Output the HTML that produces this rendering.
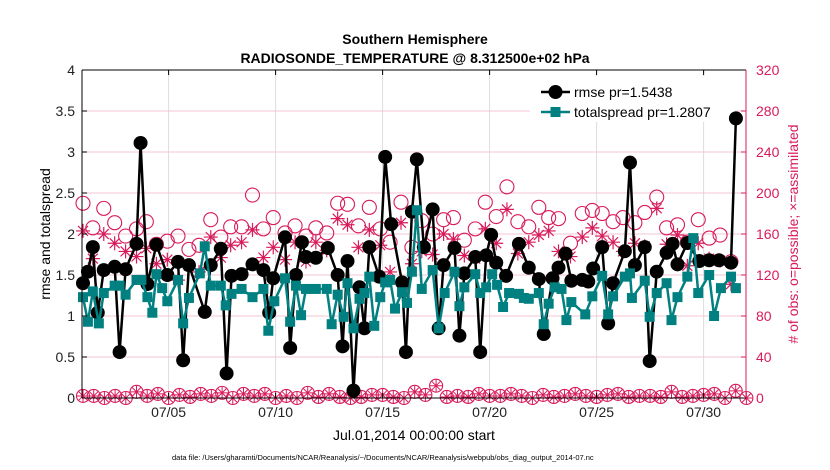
<!DOCTYPE html>
<html><head><meta charset="utf-8">
<style>
body{margin:0;background:#fff;}
svg{display:block;font-family:"Liberation Sans",Arial,sans-serif;}
</style></head>
<body>
<svg id="chart" width="830" height="470" viewBox="0 0 830 470" xmlns="http://www.w3.org/2000/svg">
<text x="415" y="44" font-size="14" font-weight="bold" text-anchor="middle">Southern Hemisphere</text>
<text x="415" y="63" font-size="14" font-weight="bold" text-anchor="middle">RADIOSONDE_TEMPERATURE @ 8.312500e+02 hPa</text>
<g id="grid"></g>
<g id="legend">
<rect x="530" y="76" width="205" height="46" fill="#fff"/>
</g>
<g id="marks"></g>
<g id="axes"></g>
<text transform="translate(50,234) rotate(-90)" font-size="14" text-anchor="middle">rmse and totalspread</text>
<text transform="translate(798,234) rotate(-90)" font-size="14" text-anchor="middle" fill="#d81b5a"># of obs: o=possible; ×=assimilated</text>
<text x="414" y="440" font-size="14" text-anchor="middle">Jul.01,2014 00:00:00 start</text>
<text x="172" y="460" font-size="7.5">data file: /Users/gharamti/Documents/NCAR/Reanalysis/~/Documents/NCAR/Reanalysis/webpub/obs_diag_output_2014-07.nc</text>
</svg>
<script>
const rmseDays=[0,.23,.46,.69,.97,1.48,1.71,1.99,2.5,2.69,3.01,3.43,3.94,4.44,4.68,4.95,5.69,5.97,6.44,6.71,6.94,7.41,7.92,8.43,8.7,8.89,9.44,9.68,9.95,10.23,10.42,10.88,11.44,11.9,12.13,12.36,12.64,12.92,13.15,13.38,13.84,14.12,14.4,14.91,15.09,15.37,15.6,15.93,16.34,16.62,16.85,17.36,17.59,17.82,18.33,18.56,18.84,19.07,19.31,19.77,20.37,20.83,21.3,21.53,21.94,22.22,22.55,22.82,23.33,23.61,23.84,24.26,24.54,24.77,25.32,25.56,25.79,26.25,26.48,26.81,27.27,27.55,27.78,28.24,28.8,29.26,29.72,30.28,30.51];
const rmseVals=[1.40,1.54,1.84,1.04,1.56,1.60,0.56,1.57,1.88,3.11,1.39,1.87,1.5,1.66,0.46,1.62,1.05,1.62,1.82,0.30,1.49,1.51,1.63,1.56,1.04,1.46,1.96,0.61,1.5,1.90,1.72,1.71,1.83,1.5,0.63,1.67,0.09,1.35,0.85,1.84,1.48,2.94,2.12,1.41,0.56,2.27,2.91,1.84,2.30,0.85,1.62,1.83,0.76,1.52,1.72,0.56,1.74,1.99,1.65,1.49,1.88,1.59,1.45,0.78,1.46,1.59,1.76,1.43,1.44,1.42,1.58,1.84,0.91,1.40,1.79,2.87,1.62,1.84,0.45,1.54,1.77,1.88,1.63,1.89,1.67,1.68,1.68,1.65,3.41];
const spreadDays=[0,.23,.46,.74,.97,1.48,1.71,1.99,2.5,2.73,3.01,3.24,3.43,3.7,3.94,4.44,4.68,4.95,5.46,5.69,5.97,6.44,6.67,6.94,7.41,7.92,8.43,8.66,8.94,9.44,9.68,9.95,10.19,10.42,10.88,11.39,11.62,11.9,12.18,12.36,12.64,12.92,13.15,13.38,13.61,13.89,14.12,14.35,14.58,14.91,15.14,15.37,15.6,15.83,16.34,16.62,16.9,17.36,17.59,17.82,18.33,18.56,18.84,19.12,19.35,19.63,19.91,20.37,20.6,20.83,21.3,21.53,21.76,22.04,22.36,22.59,22.82,23.47,23.8,24.26,24.54,24.77,25.32,25.56,25.65,26.25,26.48,26.81,27.27,27.5,27.78,28.24,28.52,28.75,29.26,29.49,29.81,30.28,30.51];
const spreadVals=[1.23,0.93,1.30,0.91,1.28,1.37,1.37,1.26,1.44,1.44,1.23,1.04,1.51,1.34,1.18,1.44,0.91,1.22,1.52,1.85,1.37,1.37,1.13,1.27,1.33,1.23,1.33,0.82,1.18,1.46,0.93,1.37,1.01,1.33,1.33,1.33,0.90,1.26,0.99,1.40,0.85,1.21,1.28,1.48,0.88,1.23,1.41,1.44,1.09,1.29,1.16,1.54,2.29,1.33,1.56,0.85,1.28,1.54,1.12,1.35,1.51,1.28,1.35,1.51,1.38,1.11,1.28,1.27,1.22,1.21,1.28,0.90,1.15,1.35,1.33,0.95,1.17,1.02,1.24,1.49,1.02,1.24,1.48,1.52,1.22,1.43,0.99,1.28,1.40,0.95,1.23,1.48,1.95,1.28,1.50,1.00,1.34,1.48,1.34];
const obsDays=[0,.46,.97,1.48,1.99,2.5,2.96,3.43,3.94,4.44,4.95,5.42,5.97,6.44,6.9,7.41,7.92,8.43,8.89,9.44,9.91,10.42,10.88,11.39,11.9,12.36,12.87,13.38,13.89,14.35,14.86,15.37,15.83,16.34,16.85,17.31,17.82,18.33,18.8,19.31,19.81,20.32,20.83,21.3,21.76,22.22,22.78,23.33,23.8,24.26,24.77,25.23,25.79,26.25,26.81,27.27,27.78,28.24,28.75,29.26,29.77,30.28];
const possibleVals=[190,166,185,171,158,165,172,150,153,158,145,149,174,157,167,167,198,165,176,161,168,158,166,161,190,189,168,186,165,152,191,147,173,160,174,176,154,165,191,177,206,172,167,186,176,175,151,180,183,180,172,176,171,181,196,166,169,152,174,156,159,133];
const assimVals=[163,136,160,151,143,138,146,131,135,115,129,123,157,137,149,152,164,137,147,135,152,133,152,144,175,169,147,164,149,123,171,131,143,140,160,155,139,136,165,151,184,141,152,159,163,143,138,157,166,158,152,143,151,148,185,150,159,129,151,136,134,111];
const lowDays=[0,.5,1,1.5,2,2.5,3,3.5,4,4.5,5,5.5,6,6.5,7,7.5,8,8.5,9,9.5,10,10.5,11,11.5,12,12.5,13,13.5,14,14.5,15,15.5,16,16.5,17,17.5,18,18.5,19,19.5,20,20.5,21,21.5,22,22.5,23,23.5,24,24.5,25,25.5,26,26.5,27,27.5,28,28.5,29,29.5,30,30.5,31];
const lowVals=[2,2,0,2,0,6,2,4,0,3,1,4,2,5,0,4,2,4,0,2,0,5,1,4,1,0,1,3,3,1,0,6,3,12,1,2,1,4,2,2,4,2,0,3,1,2,4,2,1,3,4,1,2,2,1,6,1,2,3,4,0,7,0];
const leftTicks=[0,0.5,1,1.5,2,2.5,3,3.5,4];
const leftTickLabels=["0","0.5","1","1.5","2","2.5","3","3.5","4"];
const rightTicks=[0,40,80,120,160,200,240,280,320];
const xTickDays=[4,9,14,19,24,29];
const xTickLabels=["07/05","07/10","07/15","07/20","07/25","07/30"];

const NS="http://www.w3.org/2000/svg";
const PL=82,PR=746,PT=70,PB=398;
const X=d=>83+d*21.4;
const YL=v=>PB-(v/4)*(PB-PT);
const YR=v=>PB-(v/320)*(PB-PT);
const PINK="#d81b5a",TEAL="#008080";
function mk(tag,attrs,parent){const e=document.createElementNS(NS,tag);for(const k in attrs)e.setAttribute(k,attrs[k]);parent.appendChild(e);return e;}
const grid=document.getElementById('grid'),marks=document.getElementById('marks'),axes=document.getElementById('axes'),legend=document.getElementById('legend');

xTickDays.forEach((d,i)=>{
  const l=mk('line',{x1:X(d),x2:X(d),y1:PT,y2:PB,stroke:'#dcdcdc','stroke-width':1},grid);
  
  
  const t=mk('text',{x:X(d),y:PB+19,'font-size':14,'text-anchor':'middle',fill:'#222'},axes);
  t.textContent=xTickLabels[i];
  
  
  mk('line',{x1:X(d),x2:X(d),y1:PB,y2:PB-5,stroke:'#000'},axes);
  mk('line',{x1:X(d),x2:X(d),y1:PT,y2:PT+5,stroke:'#000'},axes);
});
rightTicks.forEach(v=>{
  if(v>0&&v<320){const l=mk('line',{x1:PL,x2:PR,y1:YR(v),y2:YR(v),stroke:'#f3c6d5','stroke-width':1},grid);
  
  }
  const t=mk('text',{x:PR+10,y:YR(v)+5,'font-size':14,fill:PINK},axes);
  t.textContent=String(v);
  
  
  mk('line',{x1:PR,x2:PR-5,y1:YR(v),y2:YR(v),stroke:PINK},axes);
});
leftTicks.forEach((v,i)=>{
  const t=mk('text',{x:PL-7,y:YL(v)+5,'font-size':14,'text-anchor':'end',fill:'#222'},axes);
  t.textContent=leftTickLabels[i];
  
  
  mk('line',{x1:PL,x2:PL+5,y1:YL(v),y2:YL(v),stroke:'#000'},axes);
});
mk('line',{x1:PL,x2:PR,y1:PT,y2:PT,stroke:'#000'},axes);
mk('line',{x1:PL,x2:PR,y1:PB,y2:PB,stroke:'#000'},axes);
mk('line',{x1:PL,x2:PL,y1:PT,y2:PB,stroke:'#000'},axes);
mk('line',{x1:PR,x2:PR,y1:PT,y2:PB,stroke:PINK},axes);

function star(cx,cy,r,parent,w){
  let d='';for(let k=0;k<4;k++){const a=k*Math.PI/4;const dx=r*Math.cos(a),dy=r*Math.sin(a);d+=`M${cx-dx},${cy-dy}L${cx+dx},${cy+dy}`;}
  return mk('path',{d:d,stroke:PINK,'stroke-width':w,fill:'none'},parent);
}
possibleVals.forEach((v,i)=>{
  const c=mk('circle',{cx:X(obsDays[i]),cy:YR(v),r:7,fill:'none',stroke:PINK,'stroke-width':1.1},marks);
  
  
});
assimVals.forEach((v,i)=>{
  const s=star(X(obsDays[i]),YR(v),7,marks,1.2);
  
  
});
lowVals.forEach((v,i)=>{
  const c=mk('circle',{cx:X(lowDays[i]),cy:YR(v),r:6.5,fill:'none',stroke:PINK,'stroke-width':1.1},marks);
  
  
  star(X(lowDays[i]),YR(v),6,marks,1);
});
const rp=mk('polyline',{points:rmseVals.map((v,i)=>X(rmseDays[i])+','+YL(v)).join(' '),fill:'none',stroke:'#000','stroke-width':2.5},marks);


rmseVals.forEach((v,i)=>{
  const c=mk('circle',{cx:X(rmseDays[i]),cy:YL(v),r:7,fill:'#000'},marks);
  
  
});
const sp=mk('polyline',{points:spreadVals.map((v,i)=>X(spreadDays[i])+','+YL(v)).join(' '),fill:'none',stroke:TEAL,'stroke-width':2.5},marks);


spreadVals.forEach((v,i)=>{
  const r=mk('rect',{x:X(spreadDays[i])-5,y:YL(v)-5,width:10,height:10,fill:TEAL},marks);
  
  
});
mk('line',{x1:541,x2:570,y1:92,y2:92,stroke:'#000','stroke-width':2.5},legend);
mk('circle',{cx:555.5,cy:92,r:7,fill:'#000'},legend);
const t1=mk('text',{x:574,y:97,'font-size':14},legend);t1.textContent='rmse pr=1.5438';


mk('line',{x1:541,x2:570,y1:112,y2:112,stroke:TEAL,'stroke-width':2.5},legend);
mk('rect',{x:550.5,y:107,width:10,height:10,fill:TEAL},legend);
const t2=mk('text',{x:574,y:117,'font-size':14},legend);t2.textContent='totalspread pr=1.2807';


</script>
</body></html>
